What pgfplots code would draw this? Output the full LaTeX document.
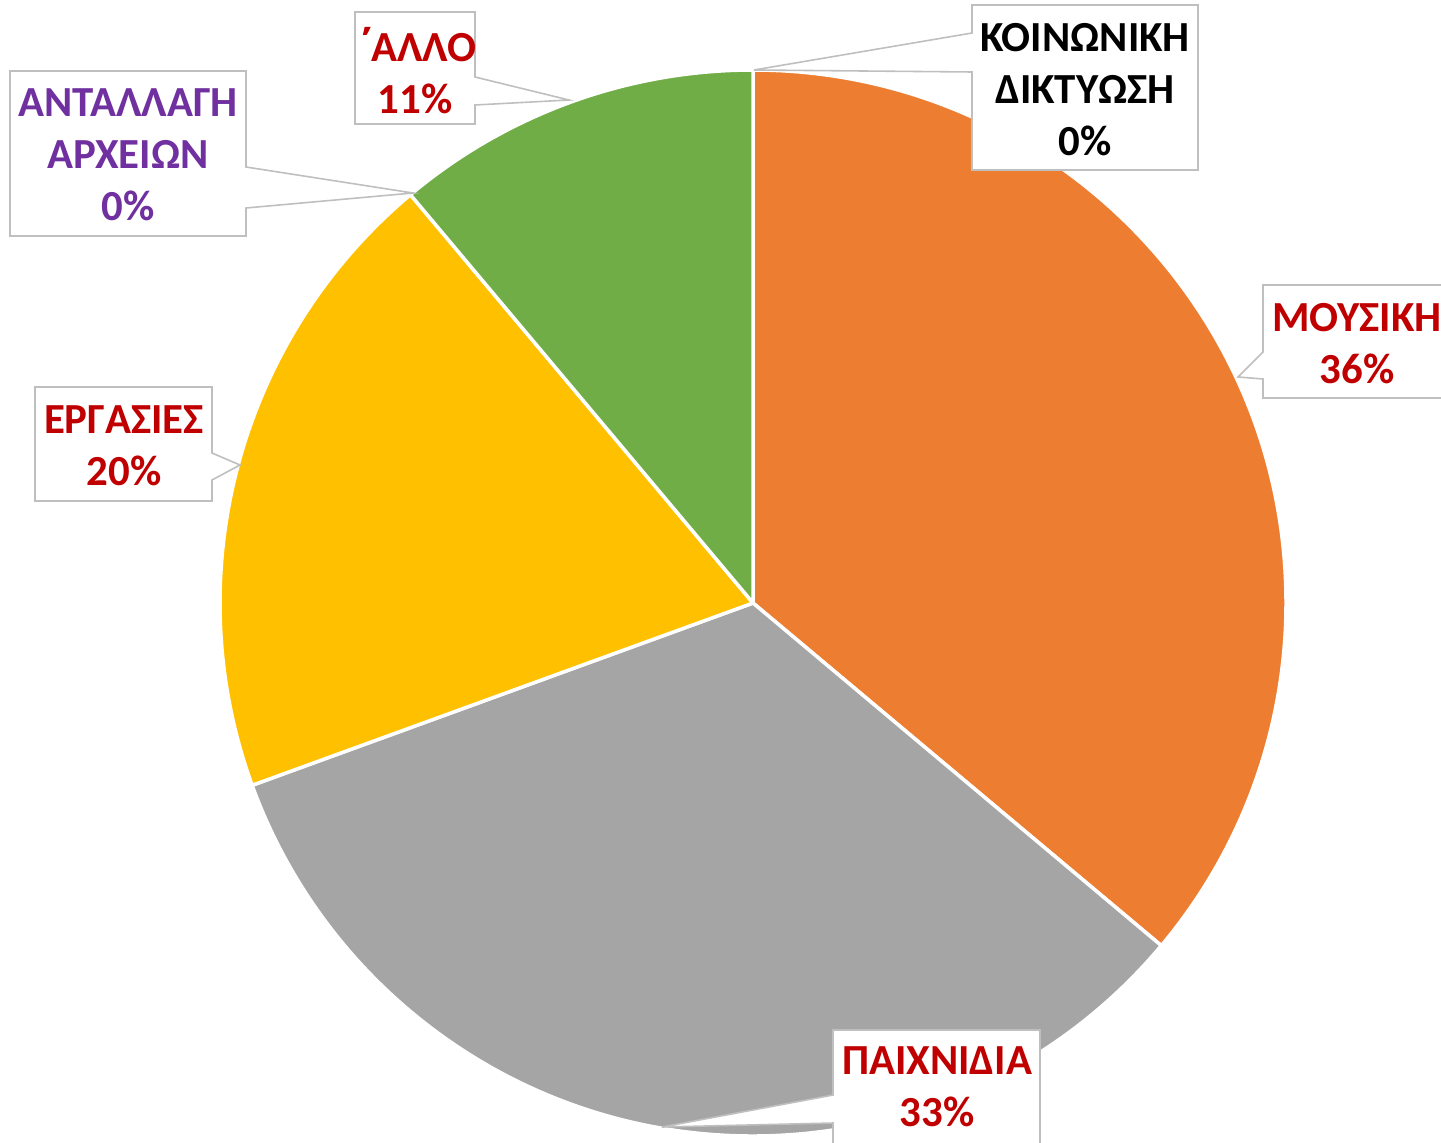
\documentclass[border=0pt]{standalone}
\usepackage{pgfplots}
\pgfplotsset{compat=1.18}
\usepackage{fontspec}
\setmainfont{Carlito}
\newfontfamily\tonosfont{Open Sans}
\definecolor{cMus}{HTML}{ED7D31}
\definecolor{cGam}{HTML}{A5A5A5}
\definecolor{cTsk}{HTML}{FFC000}
\definecolor{cOth}{HTML}{70AD47}
\definecolor{cSoc}{HTML}{4472C4}
\definecolor{cFil}{HTML}{5B9BD5}
\definecolor{lblred}{HTML}{C00000}
\definecolor{lblpur}{HTML}{7030A0}
\definecolor{callgray}{HTML}{BFBFBF}
% counts per category (clockwise from 12 o'clock)
\def\piedata{0/cSoc,13/cMus,12/cGam,7/cTsk,0/cFil,4/cOth}
\def\pietotal{36}
\def\cx{753}\def\cy{539}\def\rr{533}
\tikzset{lbl/.style={font=\fontsize{12.2}{14.8}\selectfont\bfseries,align=center,inner sep=0pt},
 callout/.style={fill=white,draw=callgray,line width=0.45pt,line join=miter}}
\begin{document}
\begin{tikzpicture}
\begin{axis}[width=14.41cm,height=11.42cm,scale only axis,
  xmin=0,xmax=1441,ymin=0,ymax=1142,hide axis,clip=false]
\gdef\cum{0}
\foreach \v/\c in \piedata {
  \pgfmathsetmacro\sa{90-\cum*360/\pietotal}
  \pgfmathsetmacro\newcum{\cum+\v}
  \xdef\cum{\newcum}
  \pgfmathsetmacro\ea{90-\cum*360/\pietotal}
  \pgfmathsetmacro\px{\cx+\rr*cos(\sa)}
  \pgfmathsetmacro\py{\cy+\rr*sin(\sa)}
  \ifdim\v pt>0pt
    \edef\temp{\noexpand\fill[fill=\c,draw=white,line width=1pt,line join=round]
      (axis cs:\cx,\cy) -- (axis cs:\px,\py) arc[start angle=\sa,end angle=\ea,radius=\rr] -- cycle;}
    \temp
  \fi
}
% callouts (y = 1142 - image y)
% KOINONIKI DIKTYOSI
\draw[callout] (axis cs:972,1137) -- (axis cs:1198,1137) -- (axis cs:1198,972) -- (axis cs:972,972)
  -- (axis cs:972,1070) -- (axis cs:754,1072) -- (axis cs:972,1109) -- cycle;
\node[lbl,text=black] at (axis cs:1085,1052) {ΚΟΙΝΩΝΙΚΗ\\ΔΙΚΤΥΩΣΗ\\0\%};
% ALLO
\draw[callout] (axis cs:355,1130) -- (axis cs:475,1130) -- (axis cs:475,1065) -- (axis cs:569,1042)
  -- (axis cs:475,1037) -- (axis cs:475,1018) -- (axis cs:355,1018) -- cycle;
\node[lbl,text=lblred] at (axis cs:415,1071) {{\tonosfont\bfseries\symbol{"0384}}\kern-0.16em ΑΛΛΟ\\11\%};
% ANTALLAGI ARXEION
\draw[callout] (axis cs:10,1071) -- (axis cs:246,1071) -- (axis cs:246,975) -- (axis cs:413,949)
  -- (axis cs:246,934) -- (axis cs:246,906) -- (axis cs:10,906) -- cycle;
\node[lbl,text=lblpur] at (axis cs:128,987) {ΑΝΤΑΛΛΑΓΗ\\ΑΡΧΕΙΩΝ\\0\%};
% ERGASIES
\draw[callout] (axis cs:35,755) -- (axis cs:212,755) -- (axis cs:212,689) -- (axis cs:240,677)
  -- (axis cs:212,662) -- (axis cs:212,641) -- (axis cs:35,641) -- cycle;
\node[lbl,text=lblred] at (axis cs:124,696) {ΕΡΓΑΣΙΕΣ\\20\%};
% MOUSIKI
\draw[callout] (axis cs:1263,857) -- (axis cs:1460,857) -- (axis cs:1460,744) -- (axis cs:1263,744)
  -- (axis cs:1263,763) -- (axis cs:1238,765) -- (axis cs:1263,790) -- cycle;
\node[lbl,text=lblred] at (axis cs:1357,798) {ΜΟΥΣΙΚΗ\\36\%};
% PAIXNIDIA
\draw[callout] (axis cs:833,112) -- (axis cs:1040,112) -- (axis cs:1040,-20) -- (axis cs:833,-20)
  -- (axis cs:833,19) -- (axis cs:662,15) -- (axis cs:833,47) -- cycle;
\node[lbl,text=lblred] at (axis cs:937,55) {ΠΑΙΧΝΙΔΙΑ\\33\%};
\end{axis}
\pgfresetboundingbox
\path[use as bounding box] (current axis.south west) rectangle (current axis.north east);
\end{tikzpicture}
\end{document}
